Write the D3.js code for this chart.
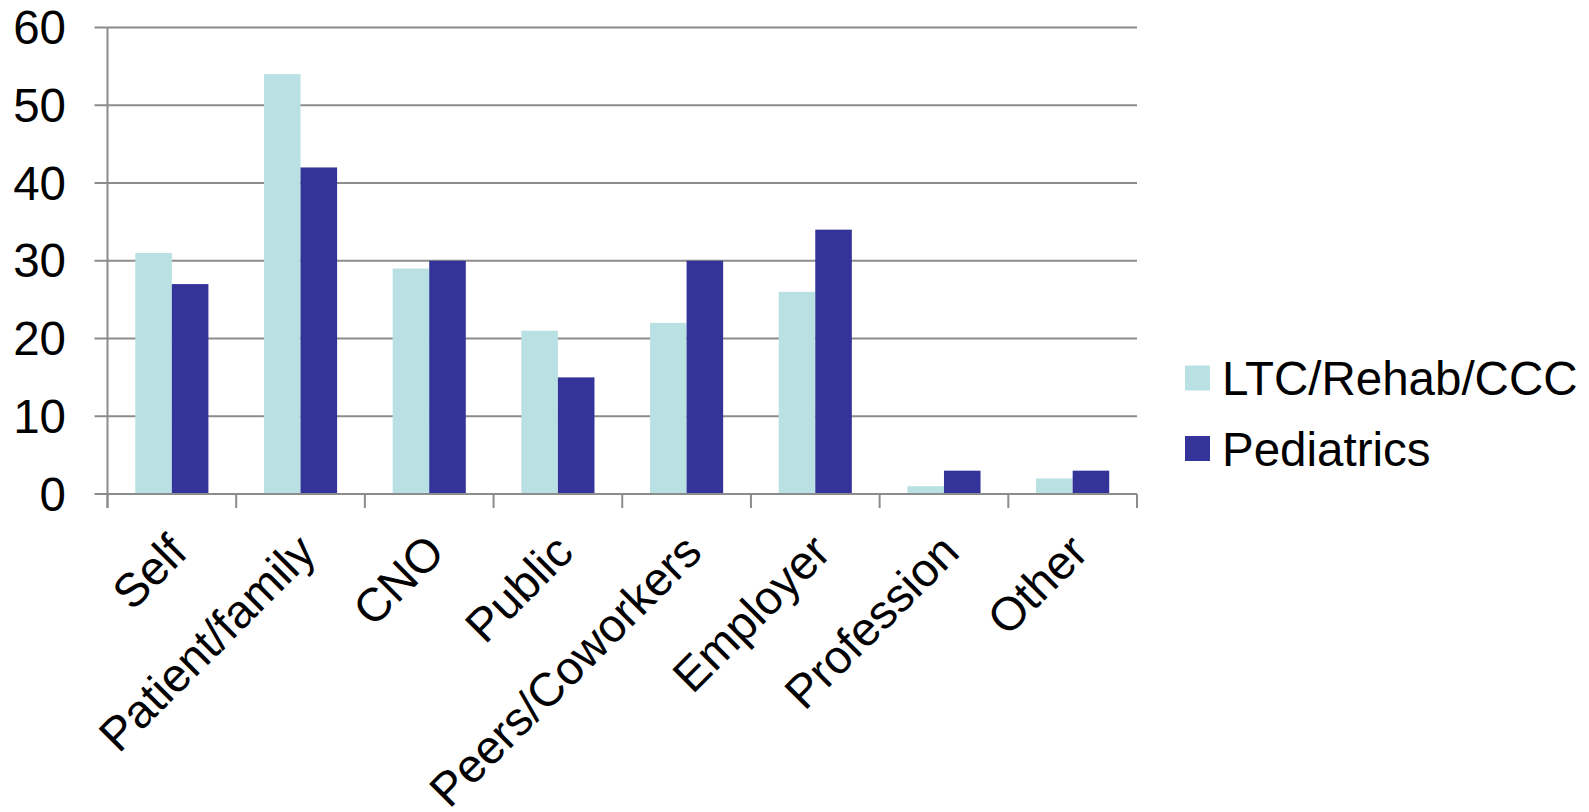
<!DOCTYPE html>
<html>
<head>
<meta charset="utf-8">
<script src="https://cdn.jsdelivr.net/npm/d3@7"></script>
<style>
  body { margin: 0; background: #fff; }
  text { font-family: "Liberation Sans", Arial, sans-serif; fill: #000; }
</style>
</head>
<body>
<svg id="chart" width="1589" height="812"></svg>
<script>
// data
var categories = ["Self", "Patient/family", "CNO", "Public", "Peers/Coworkers", "Employer", "Profession", "Other"];
var seriesNames = ["LTC/Rehab/CCC", "Pediatrics"];
var ltcValues = [31, 54, 29, 21, 22, 26, 1, 2];
var pedValues = [27, 42, 30, 15, 30, 34, 3, 3];
var yTicks = [0, 10, 20, 30, 40, 50, 60];
var colors = ["#b9e0e3", "#333399"];

var svg = d3.select("svg#chart");
var fontSize = "47.5px";

// plot box (note: "top" is taken by window.top)
var pLeft = 107.5, pRight = 1137, pTop = 27.5, pBottom = 494;

var x = d3.scaleBand().domain(categories).range([pLeft, pRight]);
var inner = d3.scaleBand().domain(seriesNames)
    .range([0, x.bandwidth()]).paddingOuter(0.76).paddingInner(0);
var y = d3.scaleLinear().domain([0, 60]).range([pBottom, pTop]);

// gridlines
svg.append("g").selectAll("line")
  .data(yTicks).enter().append("line")
  .attr("x1", pLeft - 13).attr("x2", pRight)
  .attr("y1", function(d) { return y(d); })
  .attr("y2", function(d) { return y(d); })
  .style("stroke", "#8c8c8c").attr("stroke-width", 2);

// y labels
svg.append("g").selectAll("text")
  .data(yTicks).enter().append("text")
  .attr("x", 66).attr("y", function(d) { return y(d); })
  .attr("dy", "0.35em")
  .attr("text-anchor", "end")
  .style("font-size", fontSize)
  .text(function(d) { return d; });

// bars
var rows = categories.map(function(c, i) {
  return { cat: c, vals: [ltcValues[i], pedValues[i]] };
});
var grp = svg.append("g").selectAll("g")
  .data(rows).enter().append("g")
  .attr("transform", function(d) { return "translate(" + x(d.cat) + ",0)"; });
grp.selectAll("rect")
  .data(function(d) { return d.vals.map(function(v, j) { return { s: seriesNames[j], v: v, j: j }; }); })
  .enter().append("rect")
  .attr("x", function(d) { return inner(d.s); })
  .attr("width", inner.bandwidth())
  .attr("y", function(d) { return y(d.v); })
  .attr("height", function(d) { return pBottom - y(d.v); })
  .attr("fill", function(d) { return colors[d.j]; });

// axes lines
svg.append("line").attr("x1", pLeft).attr("x2", pLeft).attr("y1", pTop).attr("y2", pBottom + 14)
  .style("stroke", "#8c8c8c").attr("stroke-width", 2);
svg.append("line").attr("x1", pLeft).attr("x2", pRight).attr("y1", pBottom).attr("y2", pBottom)
  .style("stroke", "#8c8c8c").attr("stroke-width", 2);
svg.append("g").selectAll("line")
  .data(categories.concat(["_end"])).enter().append("line")
  .attr("x1", function(d, i) { return pLeft + i * x.step(); })
  .attr("x2", function(d, i) { return pLeft + i * x.step(); })
  .attr("y1", pBottom).attr("y2", pBottom + 14)
  .style("stroke", "#8c8c8c").attr("stroke-width", 2);

// x labels, rotated
svg.append("g").selectAll("text")
  .data(categories).enter().append("text")
  .attr("transform", function(d) {
    return "translate(" + (x(d) + x.bandwidth() / 2 + 6) + "," + (pBottom + 49) + ") rotate(-45)";
  })
  .attr("text-anchor", "end")
  .attr("dy", "0.35em")
  .style("font-size", "47px")
  .text(function(d) { return d; });

// legend
var legend = svg.append("g").selectAll("g")
  .data(seriesNames).enter().append("g")
  .attr("transform", function(d, i) { return "translate(1185," + (378 + i * 70.5) + ")"; });
legend.append("rect")
  .attr("x", 0).attr("y", -12.5).attr("width", 25).attr("height", 25)
  .attr("fill", function(d, i) { return colors[i]; });
legend.append("text")
  .attr("x", 37).attr("y", 0).attr("dy", "0.36em")
  .style("font-size", fontSize)
  .text(function(d) { return d; });
</script>
</body>
</html>
